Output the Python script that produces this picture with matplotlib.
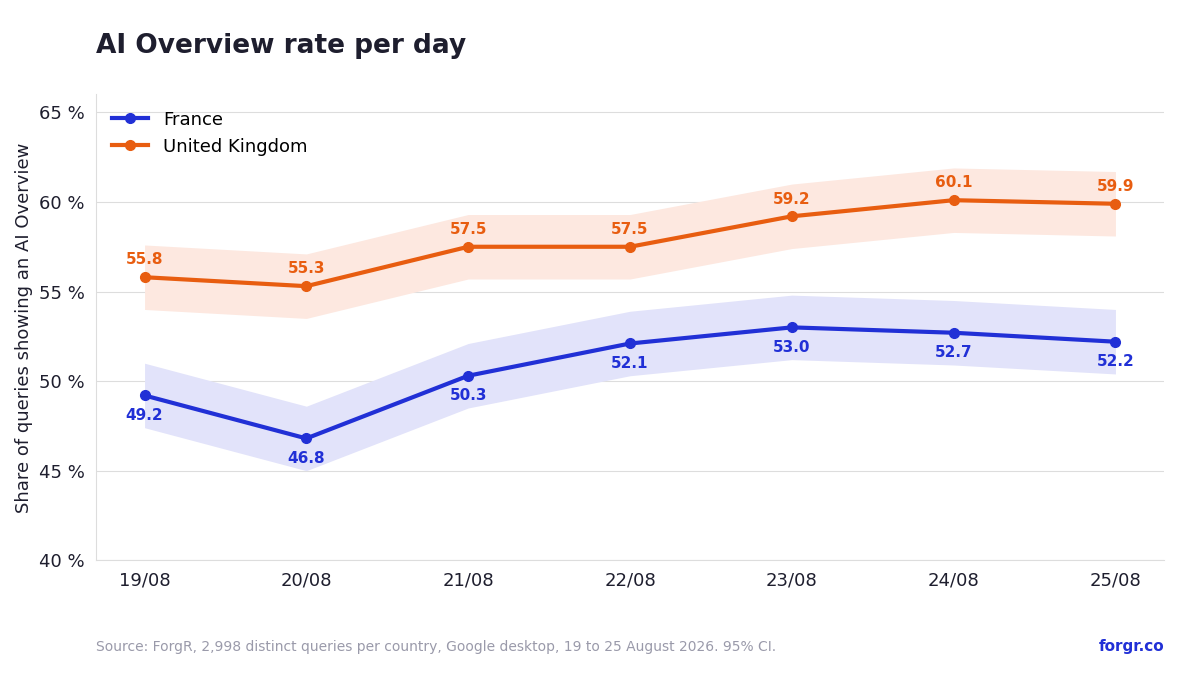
import matplotlib
matplotlib.use("Agg")
import matplotlib.pyplot as plt

dates = ["19/08", "20/08", "21/08", "22/08", "23/08", "24/08", "25/08"]
france = [49.2, 46.8, 50.3, 52.1, 53.0, 52.7, 52.2]
france_lo = [47.4, 45.0, 48.5, 50.3, 51.2, 50.9, 50.4]
france_hi = [51.0, 48.6, 52.1, 53.9, 54.8, 54.5, 54.0]
uk = [55.8, 55.3, 57.5, 57.5, 59.2, 60.1, 59.9]
uk_lo = [54.0, 53.5, 55.7, 55.7, 57.4, 58.3, 58.1]
uk_hi = [57.6, 57.1, 59.3, 59.3, 61.0, 61.9, 61.7]
yticks = [40, 45, 50, 55, 60, 65]

FR = "#2130d6"
UK = "#e85d10"

fig = plt.figure(figsize=(12, 6.75), dpi=100)
ax = fig.add_axes([0.08, 0.17, 0.89, 0.69])
x = list(range(len(dates)))

ax.fill_between(x, france_lo, france_hi, color="#e2e3fa", lw=0)
ax.fill_between(x, uk_lo, uk_hi, color="#fde8e0", lw=0)
ax.plot(x, france, color=FR, lw=3, marker="o", ms=7, label="France")
ax.plot(x, uk, color=UK, lw=3, marker="o", ms=7, label="United Kingdom")

for xi, v in zip(x, france):
    ax.annotate(f"{v:.1f}", (xi, v), xytext=(0, -9), textcoords="offset points",
                ha="center", va="top", color=FR, fontsize=11, fontweight="bold")
for xi, v in zip(x, uk):
    ax.annotate(f"{v:.1f}", (xi, v), xytext=(0, 7), textcoords="offset points",
                ha="center", va="bottom", color=UK, fontsize=11, fontweight="bold")

ax.set_xlim(-0.3, 6.3)
ax.set_ylim(40, 66)
ax.set_yticks(yticks)
ax.set_yticklabels([f"{t} %" for t in yticks])
ax.set_xticks(x)
ax.set_xticklabels(dates)
ax.tick_params(labelsize=13, colors="#1e1e2e", length=0, pad=8)
ax.grid(axis="y", color="#dddddd", lw=0.8)
ax.set_axisbelow(True)
for s in ["top", "right"]:
    ax.spines[s].set_visible(False)
for s in ["left", "bottom"]:
    ax.spines[s].set_color("#dddddd")
ax.set_ylabel("Share of queries showing an AI Overview", fontsize=13, color="#1e1e2e")
ax.legend(loc="upper left", frameon=False, fontsize=13)

fig.text(0.08, 0.932, "AI Overview rate per day", fontsize=19, fontweight="bold",
         color="#1e1e2e", va="center")
fig.text(0.08, 0.042, "Source: ForgR, 2,998 distinct queries per country, Google desktop, 19 to 25 August 2026. 95% CI.",
         fontsize=10, color="#9a9aaa", va="center")
fig.text(0.97, 0.042, "forgr.co", fontsize=11, fontweight="bold", color=FR, ha="right", va="center")
fig.savefig("out.png")
